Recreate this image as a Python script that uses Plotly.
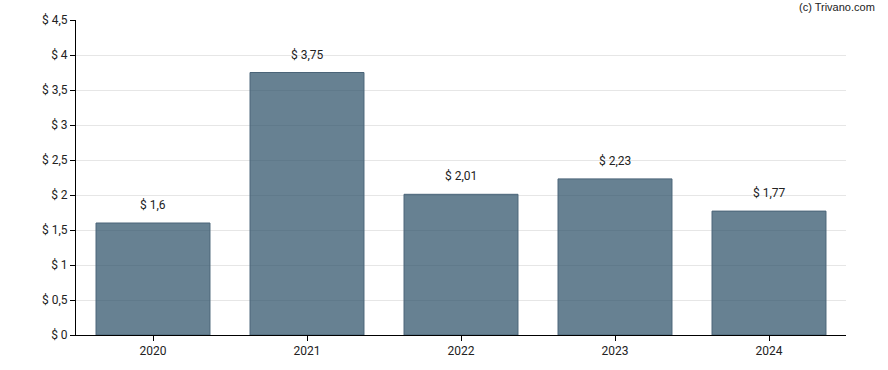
import plotly.graph_objects as go

years = ["2020", "2021", "2022", "2023", "2024"]
values = [1.6, 3.75, 2.01, 2.23, 1.77]
labels = ["$ 1,6", "$ 3,75", "$ 2,01", "$ 2,23", "$ 1,77"]
ytick_vals = [0, 0.5, 1, 1.5, 2, 2.5, 3, 3.5, 4, 4.5]
ytick_text = ["$ 0", "$ 0,5", "$ 1", "$ 1,5", "$ 2", "$ 2,5", "$ 3", "$ 3,5", "$ 4", "$ 4,5"]

fig = go.Figure()
fig.add_trace(go.Bar(
    x=years, y=values,
    marker=dict(color="rgba(44,80,104,0.72)", line=dict(color="#4a6478", width=1)),
    hoverinfo="skip",
))

# value labels above bars (category index positions)
for i, (y, t) in enumerate(zip(values, labels)):
    fig.add_annotation(x=i, y=y, text=t, showarrow=False, yanchor="bottom",
                       yshift=9, font=dict(size=12, color="#222222", family="Roboto"))

fig.add_annotation(xref="paper", yref="paper", x=1.04, y=1.0, xanchor="right", yanchor="bottom",
                   yshift=5, text="(c) Trivano.com", showarrow=False,
                   font=dict(size=11, color="#222222", family="Arial, Liberation Sans"))

fig.update_layout(
    width=888, height=370,
    margin=dict(l=76, r=42, t=20, b=35, autoexpand=False),
    paper_bgcolor="white", plot_bgcolor="white",
    bargap=0.26,
    showlegend=False,
    font=dict(family="Roboto", size=12, color="#222222"),
    xaxis=dict(type="category", range=[-0.5, len(years) - 0.5],
               showline=True, linecolor="black", linewidth=1, ticks="outside",
               ticklen=5, tickcolor="black", showgrid=False,
               tickfont=dict(size=12, color="#222222")),
    yaxis=dict(range=[0, 4.5], tickvals=ytick_vals, ticktext=ytick_text,
               showline=True, linecolor="black", linewidth=1, ticks="outside",
               ticklen=5, tickcolor="black", showgrid=True, gridcolor="#e6e6e6",
               zeroline=False, tickfont=dict(size=12, color="#222222")),
)

fig.write_html("out.html", config={"displayModeBar": False},
               post_script="document.body.style.margin='0';")
